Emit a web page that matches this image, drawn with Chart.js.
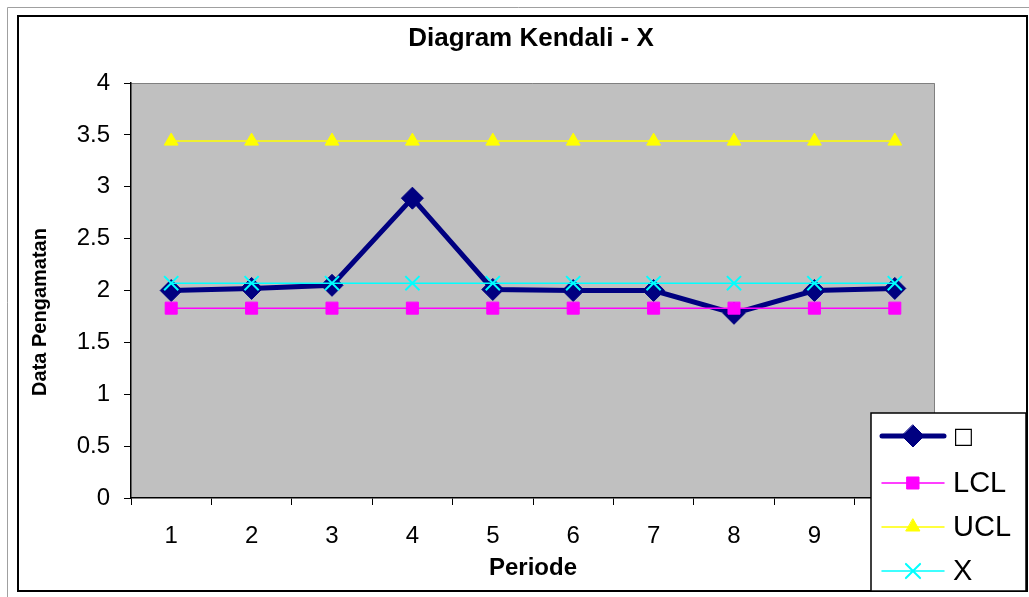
<!DOCTYPE html>
<html>
<head>
<meta charset="utf-8">
<script src="https://cdn.jsdelivr.net/npm/chart.js@4"></script>
<style>
  html, body { margin: 0; padding: 0; background: #ffffff; }
  #wrap { width: 1029px; height: 597px; position: relative; }
</style>
</head>
<body>
<div id="wrap"><canvas id="kendaliChart" width="1029" height="597"></canvas></div>
<script>
// Data diagram kendali
const judul = 'Diagram Kendali - X';
const judulY = 'Data Pengamatan';
const periode = ['1', '2', '3', '4', '5', '6', '7', '8', '9', '10'];
const rataRata = [2.00, 2.02, 2.05, 2.89, 2.01, 2.00, 2.00, 1.78, 2.00, 2.02];
const lcl = [1.83, 1.83, 1.83, 1.83, 1.83, 1.83, 1.83, 1.83, 1.83, 1.83];
const ucl = [3.44, 3.44, 3.44, 3.44, 3.44, 3.44, 3.44, 3.44, 3.44, 3.44];
const garisTengah = [2.07, 2.07, 2.07, 2.07, 2.07, 2.07, 2.07, 2.07, 2.07, 2.07];
const yTicks = [0, 0.5, 1, 1.5, 2, 2.5, 3, 3.5, 4];

Chart.defaults.font.family = "'Liberation Sans', Arial, sans-serif";
Chart.defaults.color = '#000000';

// Bingkai luar, latar abu-abu area plot, dan judul
const bingkaiPlugin = {
    id: 'bingkai',
    beforeDraw(chart) {
        const ctx = chart.ctx;
        const a = chart.chartArea;
        ctx.save();
        ctx.fillStyle = '#ffffff';
        ctx.fillRect(0, 0, chart.width, chart.height);
        ctx.strokeStyle = '#a0a0a0';
        ctx.lineWidth = 1;
        ctx.beginPath();
        ctx.moveTo(7.5, 597); ctx.lineTo(7.5, 7.5); ctx.lineTo(1029, 7.5);
        ctx.stroke();
        ctx.strokeStyle = '#000000';
        ctx.lineWidth = 2;
        ctx.strokeRect(18, 16, 1009, 575);
        ctx.fillStyle = '#c0c0c0';
        ctx.fillRect(a.left, a.top, a.right - a.left, a.bottom - a.top);
        ctx.strokeStyle = '#808080';
        ctx.lineWidth = 1;
        ctx.beginPath();
        ctx.moveTo(a.left, a.top + 0.5); ctx.lineTo(a.right - 0.5, a.top + 0.5); ctx.lineTo(a.right - 0.5, a.bottom);
        ctx.stroke();
        // judul grafik
        ctx.fillStyle = '#000000';
        ctx.font = "bold 26px 'Liberation Sans', Arial, sans-serif";
        ctx.textAlign = 'center';
        ctx.textBaseline = 'middle';
        ctx.fillText(judul, 531, 39);
        // judul sumbu Y
        ctx.translate(40, 312);
        ctx.rotate(-Math.PI / 2);
        ctx.font = "bold 20px 'Liberation Sans', Arial, sans-serif";
        ctx.fillText(judulY, 0, 0);
        ctx.restore();
    }
};

// Gambar simbol legenda
function gambarSimbol(ctx, ds, x, y) {
    ctx.save();
    ctx.strokeStyle = ds.borderColor;
    ctx.fillStyle = ds.pointBackgroundColor;
    ctx.lineWidth = ds.borderWidth;
    ctx.lineCap = 'round';
    ctx.beginPath();
    ctx.moveTo(x - 31, y); ctx.lineTo(x + 31, y);
    ctx.stroke();
    const r = ds.pointRadius;
    ctx.lineWidth = ds.pointBorderWidth;
    ctx.strokeStyle = ds.pointBorderColor;
    ctx.beginPath();
    if (ds.pointStyle === 'rectRot') {
        ctx.moveTo(x, y - r); ctx.lineTo(x + r, y); ctx.lineTo(x, y + r); ctx.lineTo(x - r, y);
        ctx.closePath(); ctx.fill(); ctx.stroke();
    } else if (ds.pointStyle === 'rect') {
        const s = r * Math.SQRT1_2;
        ctx.rect(x - s, y - s, 2 * s, 2 * s); ctx.fill(); ctx.stroke();
    } else if (ds.pointStyle === 'triangle') {
        ctx.moveTo(x, y - r); ctx.lineTo(x + r * 0.866, y + r * 0.5); ctx.lineTo(x - r * 0.866, y + r * 0.5);
        ctx.closePath(); ctx.fill(); ctx.stroke();
    } else if (ds.pointStyle === 'crossRot') {
        const s = r * Math.SQRT1_2;
        ctx.moveTo(x - s, y - s); ctx.lineTo(x + s, y + s);
        ctx.moveTo(x + s, y - s); ctx.lineTo(x - s, y + s);
        ctx.stroke();
    }
    ctx.restore();
}

const legendaPlugin = {
    id: 'legenda',
    afterDraw(chart) {
        const ctx = chart.ctx;
        const box = { x: 871, y: 413, w: 155, h: 178 };
        ctx.save();
        ctx.fillStyle = '#ffffff';
        ctx.fillRect(box.x, box.y, box.w, box.h);
        ctx.strokeStyle = '#000000';
        ctx.lineWidth = 1.5;
        ctx.strokeRect(box.x, box.y, box.w, box.h);
        const rows = [436, 483, 527, 571];
        chart.data.datasets.forEach((ds, i) => {
            gambarSimbol(ctx, ds, 913, rows[i]);
            ctx.fillStyle = '#000000';
            ctx.font = i === 0 ? "22px 'DejaVu Sans', sans-serif" : "29px 'Liberation Sans', Arial, sans-serif";
            ctx.textBaseline = 'middle';
            ctx.textAlign = 'left';
            ctx.fillText(ds.label, 953, rows[i] + 1);
        });
        ctx.restore();
    }
};

new Chart(document.getElementById('kendaliChart').getContext('2d'), {
    type: 'line',
    data: {
        labels: periode,
        datasets: [
            {
                label: '\u25A1',
                data: rataRata,
                borderColor: '#000080',
                backgroundColor: '#000080',
                borderWidth: 5,
                pointStyle: 'rectRot',
                pointRadius: 11,
                pointBackgroundColor: '#000080',
                pointBorderColor: '#000080',
                pointBorderWidth: 1,
                order: 4
            },
            {
                label: 'LCL',
                data: lcl,
                borderColor: '#ff00ff',
                backgroundColor: '#ff00ff',
                borderWidth: 1.5,
                pointStyle: 'rect',
                pointRadius: 8.5,
                pointBackgroundColor: '#ff00ff',
                pointBorderColor: '#ff00ff',
                pointBorderWidth: 1,
                order: 3
            },
            {
                label: 'UCL',
                data: ucl,
                borderColor: '#ffff00',
                backgroundColor: '#ffff00',
                borderWidth: 1.5,
                pointStyle: 'triangle',
                pointRadius: 8,
                pointBackgroundColor: '#ffff00',
                pointBorderColor: '#ffff00',
                pointBorderWidth: 1,
                order: 2
            },
            {
                label: 'X',
                data: garisTengah,
                borderColor: '#00ffff',
                backgroundColor: '#00ffff',
                borderWidth: 1.5,
                pointStyle: 'crossRot',
                pointRadius: 10,
                pointBackgroundColor: '#00ffff',
                pointBorderColor: '#00ffff',
                pointBorderWidth: 2,
                order: 1
            }
        ]
    },
    options: {
        responsive: false,
        animation: false,
        layout: { padding: { top: 83, left: 20, right: 94, bottom: 14 } },
        plugins: {
            legend: { display: false },
            tooltip: { enabled: false },
            title: { display: false }
        },
        scales: {
            x: {
                offset: true,
                grid: { offset: true, drawOnChartArea: false, tickLength: 7, color: '#000000' },
                border: { color: '#000000', width: 1.5 },
                ticks: { font: { size: 24 }, padding: 17, maxRotation: 0 },
                title: { display: true, text: 'Periode', font: { size: 24, weight: 'bold' }, padding: 0 },
                afterFit(scale) { scale.height = 85; }
            },
            y: {
                min: 0,
                max: 4,
                afterBuildTicks(scale) { scale.ticks = yTicks.map(v => ({ value: v })); },
                grid: { drawOnChartArea: false, tickLength: 7, color: '#000000' },
                border: { color: '#000000', width: 1.5 },
                ticks: { font: { size: 24 }, padding: 14, callback: v => String(v) },
                title: { display: false },
                afterFit(scale) { scale.width = 111; }
            }
        }
    },
    plugins: [bingkaiPlugin, legendaPlugin]
});
</script>
</body>
</html>
